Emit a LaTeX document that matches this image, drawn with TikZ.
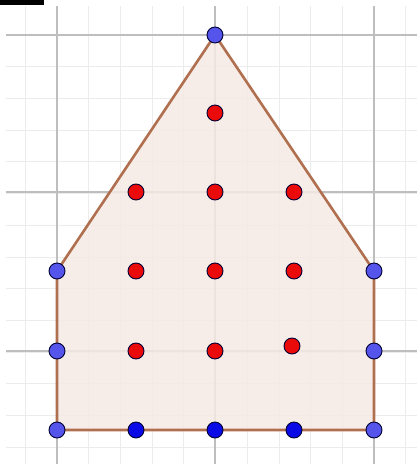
\documentclass[tikz,border=0pt]{standalone}
\usepackage{tikz}
\definecolor{edgec}{RGB}{176,112,80}
\definecolor{fillc}{RGB}{246,234,228}
\definecolor{ptblue}{RGB}{85,85,235}
\definecolor{ptdark}{RGB}{10,10,230}
\definecolor{ptred}{RGB}{235,10,10}
\definecolor{minorg}{RGB}{236,236,236}
\definecolor{majorg}{RGB}{190,190,190}
\tikzset{
  pt/.style={circle,draw=black!80!blue,line width=0.9pt,minimum size=16pt,inner sep=0pt},
  vtx/.style={pt,fill=ptblue},
  bpt/.style={pt,fill=ptdark},
  rpt/.style={pt,fill=ptred},
}
\begin{document}
\begin{tikzpicture}[x=1pt,y=-1pt]
\useasboundingbox (0,0) rectangle (417,464);
\fill[white] (0,0) rectangle (417,464);
% minor grid
\foreach \i in {-1,...,11} {
  \draw[minorg,line width=0.8pt] ({57+31.7*\i},6) -- ({57+31.7*\i},464);
}
\foreach \j in {0,...,13} {
  \draw[minorg,line width=0.8pt] (6,{35+31.7*\j}) -- (417,{35+31.7*\j});
}
% major grid
\foreach \x in {57,215,374} \draw[majorg,line width=1.2pt] (\x,6) -- (\x,464);
\foreach \y in {35,192,351} \draw[majorg,line width=1.2pt] (6,\y) -- (417,\y);
% black bar
\fill[black] (0,0) rectangle (44,5);
% points
\coordinate (A) at (215,35);
\coordinate (B) at (374,271);
\coordinate (C) at (374,430);
\coordinate (D) at (57,430);
\coordinate (E) at (57,271);
\fill[fillc,opacity=0.85] (A) -- (B) -- (C) -- (D) -- (E) -- cycle;
\draw[edgec,line width=2.6pt,line join=round] (A) -- (B) -- (C) -- (D) -- (E) -- cycle;
\node[vtx] (pA) at (A) {};
\node[vtx] (pB) at (B) {};
\node[vtx] (pC) at (C) {};
\node[vtx] (pD) at (D) {};
\node[vtx] (pE) at (E) {};
\node[vtx] (pF) at (57,351) {};
\node[vtx] (pG) at (374,351) {};
\node[bpt] (b1) at (136,430) {};
\node[bpt] (b2) at (215,430) {};
\node[bpt] (b3) at (294,430) {};
\node[rpt] (r1) at (215,113) {};
\node[rpt] (r2) at (136,192) {};
\node[rpt] (r3) at (215,192) {};
\node[rpt] (r4) at (294,192) {};
\node[rpt] (r5) at (136,271) {};
\node[rpt] (r6) at (215,271) {};
\node[rpt] (r7) at (294,271) {};
\node[rpt] (r8) at (136,351) {};
\node[rpt] (r9) at (215,351) {};
\node[rpt] (r10) at (292,346) {};
\end{tikzpicture}
\end{document}
